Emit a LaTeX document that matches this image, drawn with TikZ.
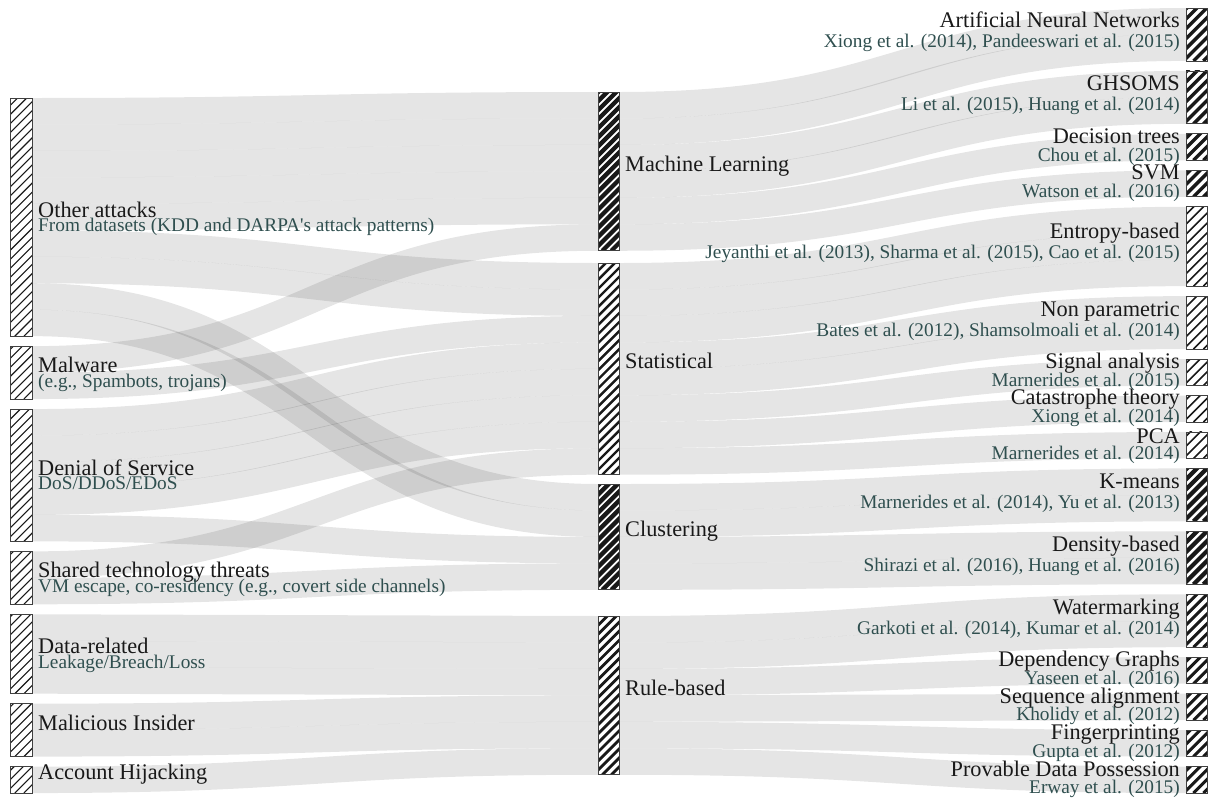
\documentclass[tikz,border=0pt]{standalone}
\usepackage{fontspec}
\setmainfont{Liberation Serif}
\usetikzlibrary{calc}
\definecolor{subcol}{HTML}{2F4F4F}
% height of one unit of flow, in pt
\def\unitpx{26.46}
% one unit-wide flow from node #1 (slot #2) to node #3 (slot #4)
\newcommand\flowunit[4]{%
  \draw[flowline] let \p1=($(#1.north east)+(0,{((#2)+0.5)*\unitpx})$),
    \p2=($(#3.north west)+(0,{((#4)+0.5)*\unitpx})$) in
    (\p1) .. controls ({0.5*\x1+0.5*\x2},\y1) and ({0.5*\x1+0.5*\x2},\y2) .. (\p2);}
% #5 consecutive unit flows
\newcommand\flows[5]{\foreach \k in {1,...,#5}{\flowunit{#1}{#2+\k-1}{#3}{#4+\k-1}}}
% white bar with diagonal hatching: node, horizontal step, stroke width
\newcommand\hatchbar[3]{%
  \fill[white] (#1.south west) rectangle (#1.north east);
  \begin{scope}
    \clip (#1.south west) rectangle (#1.north east);
    \foreach \i in {0,...,30}
      \draw[black!90, line width=#3pt] ($(#1.south west)+({\i*#2-240},0)$) -- ++(260,-260);
  \end{scope}
  \draw[barframe] (#1.south west) rectangle (#1.north east);}
\tikzset{
  flowline/.style={draw=black, draw opacity=0.1, line width=\unitpx pt},
  bar/.style={inner sep=0pt, outer sep=0pt, minimum width=21.5pt, anchor=north west},
  hgt/.style={minimum height=#1*\unitpx*1pt},
  barframe/.style={draw=black!75, line width=0.8pt},
  ttl/.style={font=\fontsize{22.3}{24}\selectfont, text=black!90, inner sep=0pt},
  sub/.style={font=\fontsize{19.3}{21}\selectfont, text=subcol, inner sep=0pt},
}
\begin{document}
\begin{tikzpicture}[x=1pt,y=-1pt]
\useasboundingbox (0,0) rectangle (1209,798);

% ---- attack categories (left column)
\node[bar, hgt=9] (oth) at (10.5,98) {};
\node[bar, hgt=2] (mal) at (10.5,346.14) {};
\node[bar, hgt=5] (dos) at (10.5,409.06) {};
\node[bar, hgt=2] (sha) at (10.5,551.36) {};
\node[bar, hgt=3] (dat) at (10.5,614.28) {};
\node[bar, hgt=2] (ins) at (10.5,703.66) {};
\node[bar, hgt=1] (hij) at (10.5,766.58) {};

% ---- technique families (middle column)
\node[bar, hgt=6] (ml)   at (598,92) {};
\node[bar, hgt=8] (stat) at (598,263) {};
\node[bar, hgt=4] (clu)  at (598,484) {};
\node[bar, hgt=6] (rul)  at (598,616) {};

% ---- techniques (right column)
\node[bar, hgt=2] (ann) at (1186,8) {};
\node[bar, hgt=2] (ghs) at (1186,70.92) {};
\node[bar, hgt=1] (dtr) at (1186,133.84) {};
\node[bar, hgt=1] (svm) at (1186,170.30) {};
\node[bar, hgt=3] (ent) at (1186,206.76) {};
\node[bar, hgt=2] (npa) at (1186,296.14) {};
\node[bar, hgt=1] (sig) at (1186,359.06) {};
\node[bar, hgt=1] (cat) at (1186,395.52) {};
\node[bar, hgt=1] (pca) at (1186,431.98) {};
\node[bar, hgt=2] (kme) at (1186,468.44) {};
\node[bar, hgt=2] (den) at (1186,531.36) {};
\node[bar, hgt=2] (wat) at (1186,594.28) {};
\node[bar, hgt=1] (dep) at (1186,657.20) {};
\node[bar, hgt=1] (seq) at (1186,693.66) {};
\node[bar, hgt=1] (fin) at (1186,730.12) {};
\node[bar, hgt=1] (pdp) at (1186,766.58) {};

% ---- flows
\flows{oth}{0}{ml}{0}{5}
\flows{oth}{5}{stat}{0}{2}
\flows{oth}{7}{clu}{0}{2}
\flows{mal}{0}{ml}{5}{1}
\flows{mal}{1}{stat}{2}{1}
\flows{dos}{0}{stat}{3}{4}
\flows{dos}{4}{clu}{2}{1}
\flows{sha}{0}{stat}{7}{1}
\flows{sha}{1}{clu}{3}{1}
\flows{dat}{0}{rul}{0}{3}
\flows{ins}{0}{rul}{3}{2}
\flows{hij}{0}{rul}{5}{1}
\flows{ml}{0}{ann}{0}{2}
\flows{ml}{2}{ghs}{0}{2}
\flows{ml}{4}{dtr}{0}{1}
\flows{ml}{5}{svm}{0}{1}
\flows{stat}{0}{ent}{0}{3}
\flows{stat}{3}{npa}{0}{2}
\flows{stat}{5}{sig}{0}{1}
\flows{stat}{6}{cat}{0}{1}
\flows{stat}{7}{pca}{0}{1}
\flows{clu}{0}{kme}{0}{2}
\flows{clu}{2}{den}{0}{2}
\flows{rul}{0}{wat}{0}{2}
\flows{rul}{2}{dep}{0}{1}
\flows{rul}{3}{seq}{0}{1}
\flows{rul}{4}{fin}{0}{1}
\flows{rul}{5}{pdp}{0}{1}

% ---- hatched bars, above the flows (node / step / stroke)
\foreach \n/\s/\w in {oth/9.05/1.1, mal/9.05/1.1, dos/9.05/1.1, sha/9.05/1.1,
  dat/9.05/1.1, ins/9.05/1.1, hij/9.05/1.1,
  ml/9.05/4.3, stat/9.05/2.4, clu/9.05/4.4, rul/9.05/2.8,
  ann/9.9/3.4, ghs/9.9/3.4, dtr/9.9/3.4, svm/9.9/3.4,
  ent/9.9/1.6, npa/9.9/1.6, sig/9.9/1.6, cat/9.9/1.6, pca/9.9/1.6,
  kme/9.9/4.2, den/9.9/4.2,
  wat/9.9/3.0, dep/9.9/3.0, seq/9.9/3.0, fin/9.9/3.0, pdp/9.9/3.0}
  {\hatchbar{\n}{\s}{\w}}

% ---- labels, left column
\node[ttl, anchor=base west] (oth-t) at ($(oth.east)+(6,0)$) {Other attacks};
\node[sub, anchor=base west] (oth-s) at ($(oth.east)+(6,14.5)$) {From datasets (KDD and DARPA\textquotesingle s attack patterns)};
\node[ttl, anchor=base west] (mal-t) at ($(mal.east)+(6,0)$) {Malware};
\node[sub, anchor=base west] (mal-s) at ($(mal.east)+(6,14.5)$) {(e.g., Spambots, trojans)};
\node[ttl, anchor=base west] (dos-t) at ($(dos.east)+(6,0)$) {Denial of Service};
\node[sub, anchor=base west] (dos-s) at ($(dos.east)+(6,14.5)$) {DoS/DDoS/EDoS};
\node[ttl, anchor=base west] (sha-t) at ($(sha.east)+(6,0)$) {Shared technology threats};
\node[sub, anchor=base west] (sha-s) at ($(sha.east)+(6,14.5)$) {VM escape, co-residency (e.g., covert side channels)};
\node[ttl, anchor=base west] (dat-t) at ($(dat.east)+(6,0)$) {Data-related};
\node[sub, anchor=base west] (dat-s) at ($(dat.east)+(6,14.5)$) {Leakage/Breach/Loss};
\node[ttl, anchor=base west] (ins-t) at ($(ins.east)+(6,0)$) {Malicious Insider};
\node[ttl, anchor=base west] (hij-t) at ($(hij.east)+(6,0)$) {Account Hijacking};

% ---- labels, middle column
\node[ttl, anchor=base west] (ml-t)   at ($(ml.east)+(5.5,0)$) {Machine Learning};
\node[ttl, anchor=base west] (stat-t) at ($(stat.east)+(5.5,0)$) {Statistical};
\node[ttl, anchor=base west] (clu-t)  at ($(clu.east)+(5.5,0)$) {Clustering};
\node[ttl, anchor=base west] (rul-t)  at ($(rul.east)+(5.5,0)$) {Rule-based};

% ---- labels, right column
\foreach \n/\a/\b/\t/\s in {
  ann/-7/13.5/Artificial Neural Networks/{Xiong et al. (2014), Pandeeswari et al. (2015)},
  ghs/-7/13.5/GHSOMS/{Li et al. (2015), Huang et al. (2014)},
  dtr/-4/14/Decision trees/Chou et al. (2015),
  svm/-4/14/SVM/Watson et al. (2016),
  ent/-7.5/12.5/Entropy-based/{Jeyanthi et al. (2013), Sharma et al. (2015), Cao et al. (2015)},
  npa/-6/14/Non parametric/{Bates et al. (2012), Shamsolmoali et al. (2014)},
  sig/-4/14/Signal analysis/Marnerides et al. (2015),
  cat/-4/14/Catastrophe theory/Xiong et al. (2014),
  pca/-2/14/PCA/Marnerides et al. (2014),
  kme/-6/14/K-means/{Marnerides et al. (2014), Yu et al. (2013)},
  den/-6/14/Density-based/{Shirazi et al. (2016), Huang et al. (2016)},
  wat/-6.5/14/Watermarking/{Garkoti et al. (2014), Kumar et al. (2014)},
  dep/-3.5/14/Dependency Graphs/Yaseen et al. (2016),
  seq/-3.5/14/Sequence alignment/Kholidy et al. (2012),
  fin/-3.5/14/Fingerprinting/Gupta et al. (2012),
  pdp/-3.5/14/Provable Data Possession/Erway et al. (2015)}
{\node[ttl, anchor=base east] (\n-t) at ($(\n.west)+(-6,\a)$) {\t};
 \node[sub, anchor=base east] (\n-s) at ($(\n.west)+(-6,\b)$) {\s};}
\end{tikzpicture}
\end{document}
